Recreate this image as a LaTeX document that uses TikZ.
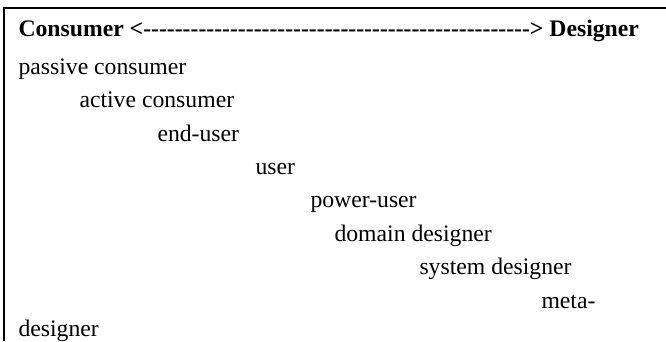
\documentclass[tikz,border=0pt]{standalone}
\usepackage{fontspec}
\setmainfont{Liberation Serif}[Ligatures=TeXOff]
\begin{document}
\begin{tikzpicture}[x=1bp,y=-1bp,
  txt/.style={anchor=base west,inner sep=0pt,outer sep=0pt,font=\fontsize{23.7bp}{28bp}\selectfont},
  hdr/.style={txt,font=\fontsize{23.7bp}{28bp}\selectfont\bfseries},
  rule/.style={line width=2bp,black}]
\useasboundingbox (0,0) rectangle (666,341);
\coordinate (tl) at (4,8);
\coordinate (tr) at (666,8);
\coordinate (bl) at (4,341);
\draw[rule] (tr) -- (tl) -- (bl);
\node[hdr] (head) at (18.5,36) {Consumer <-------------------------------------------------> Designer};
\node[txt] (n1) at (18.5,74) {passive consumer};
\node[txt] (n2) at (79.5,107) {active consumer};
\node[txt] (n3) at (157.5,141) {end-user};
\node[txt] (n4) at (255.5,174) {user};
\node[txt] (n5) at (310.5,207) {power-user};
\node[txt] (n6) at (334.5,241) {domain designer};
\node[txt] (n7) at (419.5,274) {system designer};
\node[txt] (n8) at (541.5,308) {meta-};
\node[txt] (n9) at (18.5,336) {designer};
\end{tikzpicture}
\end{document}
